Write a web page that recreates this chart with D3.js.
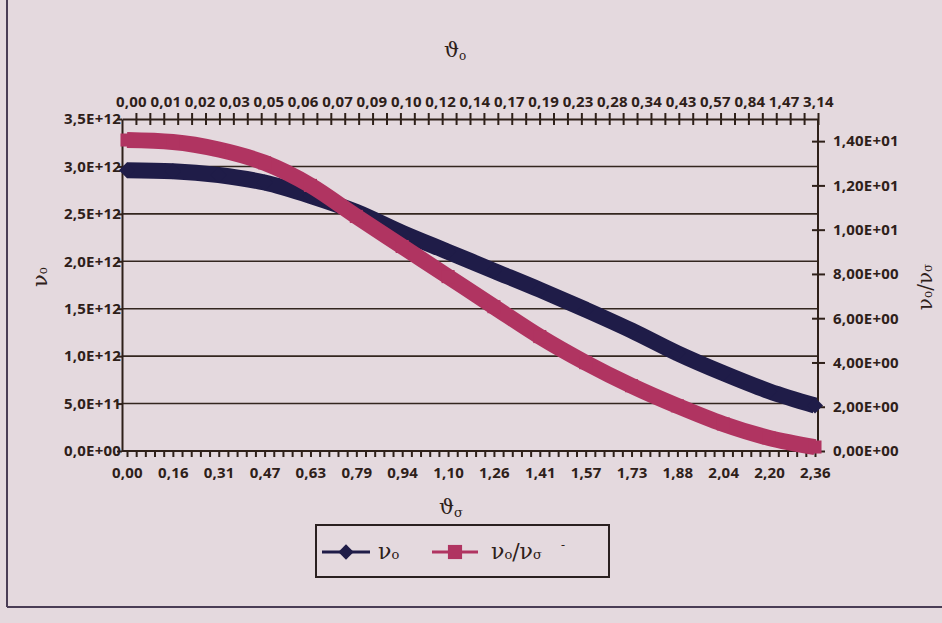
<!DOCTYPE html>
<html>
<head>
<meta charset="utf-8">
<script src="https://cdn.jsdelivr.net/npm/d3@7"></script>
<style>
  body { margin: 0; background: #e4d9de; }
  svg text { font-family: "Open Sans", sans-serif; }
  .axis text { font-size: 15px; font-weight: 700; fill: #2e2019; letter-spacing: 0.2px; }
  .axis line, .axis path { stroke: #2e2019; stroke-width: 2; }
  .grid line { stroke: #33261f; stroke-width: 1.6; }
  .title { font-family: "DejaVu Serif", serif; fill: #2e2019; }
</style>
</head>
<body>
<svg id="chart" width="942" height="623"></svg>
<script>
// theta sigma categories (bottom axis)
var thetaSigma = [0.0000, 0.1571, 0.3142, 0.4712, 0.6283, 0.7854, 0.9425, 1.0996,
                  1.2566, 1.4137, 1.5708, 1.7279, 1.8849, 2.0420, 2.1991, 2.3562];
// nu_o, left axis
var nuO = [2.96e12, 2.95e12, 2.91e12, 2.83e12, 2.69e12, 2.52e12, 2.30e12, 2.10e12,
           1.90e12, 1.70e12, 1.49e12, 1.27e12, 1.03e12, 0.82e12, 0.63e12, 0.48e12];
// nu_o / nu_sigma, right axis
var nuRatio = [14.05, 13.96, 13.62, 13.02, 12.0, 10.6, 9.24, 7.88,
               6.52, 5.17, 3.99, 2.95, 2.04, 1.22, 0.59, 0.18];
// theta o labels (top axis)
var thetaOLabels = ["0,00","0,01","0,02","0,03","0,05","0,06","0,07","0,09","0,10","0,12",
                    "0,14","0,17","0,19","0,23","0,28","0,34","0,43","0,57","0,84","1,47","3,14"];

var margin = {top: 119, right: 124, bottom: 172, left: 122},
    width = 942 - margin.left - margin.right,
    height = 623 - margin.top - margin.bottom;

var svg0 = d3.select("#chart");

// page frame
svg0.append("line").attr("x1", 7).attr("x2", 7).attr("y1", 0).attr("y2", 607)
    .style("stroke", "#4a3d55").style("stroke-width", 2);
svg0.append("line").attr("x1", 7).attr("x2", 942).attr("y1", 607).attr("y2", 607)
    .style("stroke", "#4a3d55").style("stroke-width", 2);

var svg = svg0.append("g")
    .attr("transform", "translate(" + margin.left + "," + margin.top + ")");

// scales
var x = d3.scaleLinear().domain([0, 2.3562]).range([5, width - 3]);
var yL = d3.scaleLinear().domain([0, 3.5e12]).range([height, 0]);
var yR = d3.scaleLinear().domain([0, 15]).range([height, 0]);
var xTop = d3.scaleLinear().domain([0, 50]).range([0, width]);
var xTopLab = d3.scaleLinear().domain([0, 20]).range([9, width]);

// number formats like "3,5E+12"
function sci(v, digits) {
  var e = v === 0 ? 0 : Math.floor(Math.log10(v) + 1e-9);
  var m = v / Math.pow(10, e);
  var es = (e < 10 ? "0" : "") + e;
  return m.toFixed(digits).replace(".", ",") + "E+" + es;
}

// gridlines
svg.append("g").attr("class", "grid")
  .selectAll("line")
  .data(d3.range(0.5e12, 3.01e12, 0.5e12))
  .enter().append("line")
    .attr("x1", 0).attr("x2", width)
    .attr("y1", function(d) { return yL(d); })
    .attr("y2", function(d) { return yL(d); });

// left axis
svg.append("g").attr("class", "axis")
  .call(d3.axisLeft(yL).tickValues(d3.range(0, 3.51e12, 0.5e12))
    .tickSize(5).tickSizeOuter(0).tickPadding(-4)
    .tickFormat(function(d) { return sci(d, 1); }));

// right axis
var gR = svg.append("g").attr("class", "axis")
  .attr("transform", "translate(" + width + ",0)")
  .call(d3.axisRight(yR).tickValues(d3.range(0, 15, 2))
    .tickSize(7).tickSizeOuter(0).tickPadding(8)
    .tickFormat(function(d) { return sci(d, 2); }));
gR.selectAll(".tick line").attr("x1", -6);
gR.select(".domain").attr("d", "M0,0V" + height);

// top axis: ticks, then labels
var gT = svg.append("g").attr("class", "axis")
  .call(d3.axisTop(xTop).tickValues(d3.range(1, 51)).tickSize(6).tickSizeOuter(0).tickFormat(""));
gT.selectAll(".tick line").attr("y1", 6);
svg.append("g").attr("class", "axis")
  .call(d3.axisTop(xTopLab).tickValues(d3.range(21)).tickSize(0).tickPadding(12)
    .tickFormat(function(i) { return thetaOLabels[i]; }))
  .select(".domain").remove();

// bottom axis: minor ticks, then labels
var gB = svg.append("g").attr("class", "axis")
  .attr("transform", "translate(0," + height + ")")
  .call(d3.axisBottom(x).tickValues(d3.range(76).map(function(k) { return k * 2.3562 / 75; }))
    .tickSize(6).tickSizeOuter(0).tickFormat(""));
gB.select(".domain").attr("d", "M0,0H" + width);
svg.append("g").attr("class", "axis")
  .attr("transform", "translate(0," + height + ")")
  .call(d3.axisBottom(x).tickValues(thetaSigma).tickSize(0).tickPadding(16)
    .tickFormat(function(d) { return d.toFixed(2).replace(".", ","); }))
  .select(".domain").remove();

// series
var blue = "#1f1c48", pink = "#b03461";

var lineO = d3.line()
    .x(function(d, i) { return x(thetaSigma[i]); })
    .y(function(d) { return yL(d); })
    .curve(d3.curveMonotoneX);
var lineR = d3.line()
    .x(function(d, i) { return x(thetaSigma[i]); })
    .y(function(d) { return yR(d); })
    .curve(d3.curveMonotoneX);

svg.append("path").datum(nuO)
    .attr("d", lineO)
    .style("fill", "none").style("stroke", blue).style("stroke-width", 16);
svg.selectAll(".mO").data(nuO).enter().append("path")
    .attr("transform", function(d, i) { return "translate(" + x(thetaSigma[i]) + "," + yL(d) + ")"; })
    .attr("d", d3.symbol(d3.symbolDiamond2, 165))
    .style("fill", blue);

svg.append("path").datum(nuRatio)
    .attr("d", lineR)
    .style("fill", "none").style("stroke", pink).style("stroke-width", 16);
svg.selectAll(".mR").data(nuRatio).enter().append("path")
    .attr("transform", function(d, i) { return "translate(" + x(thetaSigma[i]) + "," + yR(d) + ")"; })
    .attr("d", d3.symbol(d3.symbolSquare, 170))
    .style("fill", pink);

// axis titles
var tTop = svg0.append("text").attr("class", "title")
    .attr("x", 455).attr("y", 57).attr("text-anchor", "middle").style("font-size", "21px");
tTop.append("tspan").text("ϑ");
tTop.append("tspan").attr("dy", 3).style("font-size", "12px").text("o");

var tBot = svg0.append("text").attr("class", "title")
    .attr("x", 451).attr("y", 514).attr("text-anchor", "middle").style("font-size", "21px");
tBot.append("tspan").text("ϑ");
tBot.append("tspan").attr("dy", 3).style("font-size", "13px").text("σ");

var tL = svg0.append("text").attr("class", "title")
    .attr("transform", "translate(47,277) rotate(-90)")
    .attr("text-anchor", "middle").style("font-size", "21px");
tL.append("tspan").text("ν");
tL.append("tspan").style("font-size", "12px").text("o");

var tR = svg0.append("text").attr("class", "title")
    .attr("transform", "translate(932,287) rotate(-90)")
    .attr("text-anchor", "middle").style("font-size", "20px");
tR.append("tspan").text("ν");
tR.append("tspan").style("font-size", "12px").text("o");
tR.append("tspan").text("/ν");
tR.append("tspan").style("font-size", "12px").text("σ");

// legend
var lg = svg0.append("g");
lg.append("rect").attr("x", 316).attr("y", 525).attr("width", 293).attr("height", 52)
    .style("fill", "none").style("stroke", "#2a2020").style("stroke-width", 2);
lg.append("line").attr("x1", 322).attr("x2", 370).attr("y1", 552).attr("y2", 552)
    .style("stroke", blue).style("stroke-width", 3);
lg.append("path").attr("transform", "translate(346,552)")
    .attr("d", d3.symbol(d3.symbolDiamond2, 150)).style("fill", blue);
var l1 = lg.append("text").attr("class", "title").attr("x", 378).attr("y", 559).style("font-size", "22px");
l1.append("tspan").text("ν");
l1.append("tspan").style("font-size", "13px").text("o");
lg.append("line").attr("x1", 432).attr("x2", 478).attr("y1", 552).attr("y2", 552)
    .style("stroke", pink).style("stroke-width", 3);
lg.append("path").attr("transform", "translate(455,552)")
    .attr("d", d3.symbol(d3.symbolSquare, 200)).style("fill", pink);
var l2 = lg.append("text").attr("class", "title").attr("x", 491).attr("y", 559).style("font-size", "22px");
l2.append("tspan").text("ν");
l2.append("tspan").style("font-size", "13px").text("o");
l2.append("tspan").text("/ν");
l2.append("tspan").style("font-size", "13px").text("σ");
lg.append("text").attr("class", "title").attr("x", 561).attr("y", 549)
    .style("font-size", "12px").text("-");
</script>
</body>
</html>
